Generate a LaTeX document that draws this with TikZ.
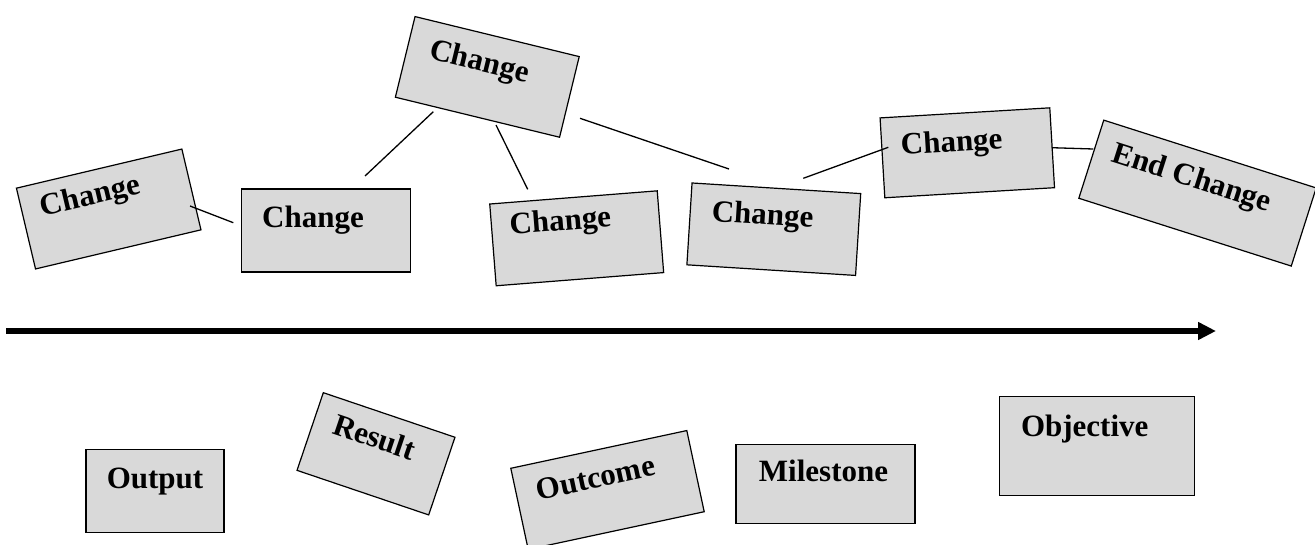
\documentclass[tikz,border=0pt]{standalone}
\usepackage{fontspec}
\setmainfont{Liberation Serif}
\usetikzlibrary{arrows.meta}
\definecolor{cardfill}{RGB}{217,217,217}
\tikzset{
  card/.style={draw=black, line width=1.2pt, fill=cardfill, rectangle, inner sep=0pt},
  cardtext/.style={anchor=base, inner sep=0pt, font=\fontsize{31}{36}\selectfont\bfseries},
  link/.style={draw=black, line width=1.3pt},
  timeline/.style={draw=black, line width=6pt, -{Triangle[length=18pt,width=17pt]}},
}
\begin{document}
\begin{tikzpicture}[x=1pt, y=-1pt]
\useasboundingbox (0,0) rectangle (1315,544);

% ---- upper row: chain of changes ----
\begin{scope}[shift={(108.7,209)}, rotate=13.3, transform shape]
  \node[card, minimum width=170pt, minimum height=83pt] (chA) at (0,0) {};
  \node[cardtext] (chAt) at (-15,-8) {Change};
\end{scope}
\begin{scope}[shift={(326,230.5)}, transform shape]
  \node[card, minimum width=169pt, minimum height=83pt] (chB) at (0,0) {};
  \node[cardtext] (chBt) at (-13,-3) {Change};
\end{scope}
\begin{scope}[shift={(487.3,76.9)}, rotate=-13.7, transform shape]
  \node[card, minimum width=169pt, minimum height=83pt] (chC) at (0,0) {};
  \node[cardtext] (chCt) at (-11,-4) {Change};
\end{scope}
\begin{scope}[shift={(576.7,238.3)}, rotate=4.5, transform shape]
  \node[card, minimum width=168pt, minimum height=82pt] (chD) at (0,0) {};
  \node[cardtext] (chDt) at (-15,-9) {Change};
\end{scope}
\begin{scope}[shift={(773.8,229.2)}, rotate=-3.6, transform shape]
  \node[card, minimum width=169pt, minimum height=82pt] (chE) at (0,0) {};
  \node[cardtext] (chEt) at (-12,-4) {Change};
\end{scope}
\begin{scope}[shift={(967.3,152.8)}, rotate=3.4, transform shape]
  \node[card, minimum width=170pt, minimum height=80pt] (chF) at (0,0) {};
  \node[cardtext] (chFt) at (-15,-2) {Change};
\end{scope}
\begin{scope}[shift={(1197.5,193.1)}, rotate=-17.7, transform shape]
  \node[card, minimum width=223pt, minimum height=82pt] (chG) at (0,0) {};
  \node[cardtext] (chGt) at (-10,-4) {End Change};
\end{scope}

% connector end points
\coordinate (ab1) at (190,206);   \coordinate (ab2) at (233.3,222.7);
\coordinate (bc1) at (365,176);   \coordinate (bc2) at (433.3,111.7);
\coordinate (cd1) at (496,125);   \coordinate (cd2) at (527.7,189.3);
\coordinate (ce1) at (580,118.3); \coordinate (ce2) at (729,169);
\coordinate (ef1) at (803.3,178.3); \coordinate (ef2) at (888.3,147.3);
\coordinate (fg1) at (1051.7,147.7); \coordinate (fg2) at (1093.3,149);

\draw[link] (ab1) -- (ab2);
\draw[link] (bc1) -- (bc2);
\draw[link] (cd1) -- (cd2);
\draw[link] (ce1) -- (ce2);
\draw[link] (ef1) -- (ef2);
\draw[link] (fg1) -- (fg2);

% ---- time axis ----
\coordinate (axis0) at (6,331);
\coordinate (axis1) at (1216,331);
\draw[timeline] (axis0) -- (axis1);

% ---- lower row: deliverables ----
\begin{scope}[shift={(155,491.3)}, transform shape]
  \node[card, minimum width=138pt, minimum height=83pt] (outp) at (0,0) {};
  \node[cardtext] (outpt) at (0,-3) {Output};
\end{scope}
\begin{scope}[shift={(376,453.8)}, rotate=-18.7, transform shape]
  \node[card, minimum width=139pt, minimum height=82pt] (resl) at (0,0) {};
  \node[cardtext] (reslt) at (-7,-5) {Result};
\end{scope}
\begin{scope}[shift={(607.5,490)}, rotate=12.1, transform shape]
  \node[card, minimum width=180pt, minimum height=83pt] (outc) at (0,0) {};
  \node[cardtext] (outct) at (-9,-4.5) {Outcome};
\end{scope}
\begin{scope}[shift={(825.5,483.8)}, transform shape]
  \node[card, minimum width=179pt, minimum height=79pt] (mile) at (0,0) {};
  \node[cardtext] (milet) at (-2,-2) {Milestone};
\end{scope}
\begin{scope}[shift={(1096.7,446.3)}, transform shape]
  \node[card, minimum width=195pt, minimum height=99pt] (objv) at (0,0) {};
  \node[cardtext] (objvt) at (-12,-10) {Objective};
\end{scope}
\end{tikzpicture}
\end{document}
